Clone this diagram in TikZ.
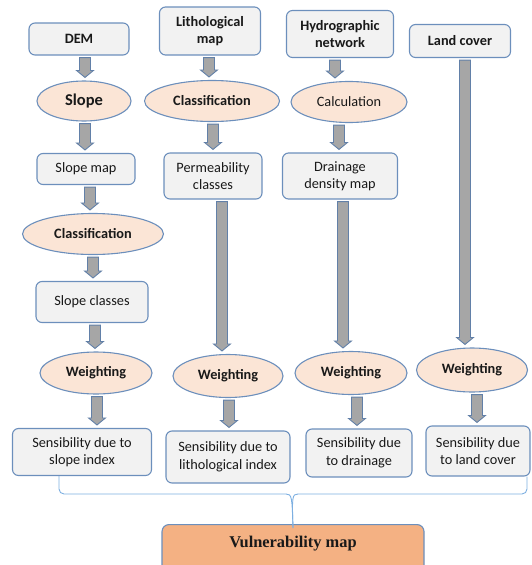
\documentclass[tikz,border=0pt]{standalone}
\usepackage{fontspec}
\setmainfont{Carlito}
\newfontfamily\tnr{Liberation Serif}
\usetikzlibrary{shapes.geometric,calc}
\definecolor{bordc}{RGB}{108,143,188}
\definecolor{boxfill}{RGB}{242,242,242}
\definecolor{ellfill}{RGB}{251,229,214}
\definecolor{arrfill}{RGB}{166,166,166}
\definecolor{arrline}{RGB}{98,128,168}
\definecolor{vulnfill}{RGB}{244,177,131}
\definecolor{bracec}{RGB}{125,175,225}
\tikzset{
  base/.style={draw=bordc,line width=1.1pt,align=center,inner sep=0pt,text=black!90,
    font=\fontsize{14.3}{17.5}\selectfont},
  boxn/.style={base,rectangle,rounded corners=6pt,fill=boxfill},
  elln/.style={base,ellipse,fill=ellfill},
  arrsty/.style={fill=arrfill,draw=arrline,line width=0.9pt,line join=miter},
  brace/.style={draw=bracec,line width=0.9pt}
}
\newcommand\barrow[3]{%
  \path let \p1=(#1.south), \p2=(#2.north) in
    [arrsty] (#3pt-5.5pt,\y1-2pt) -- (#3pt+5.5pt,\y1-2pt) -- (#3pt+5.5pt,\y2+10pt)
    -- (#3pt+8.5pt,\y2+10pt) -- (#3pt,\y2+3pt) -- (#3pt-8.5pt,\y2+10pt)
    -- (#3pt-5.5pt,\y2+10pt) -- cycle;}
\begin{document}
\begin{tikzpicture}[x=1pt,y=-1pt]
\useasboundingbox (0,0) rectangle (531,565);
% top row
\node[boxn,minimum width=100pt,minimum height=32pt,font=\bfseries\fontsize{14.3}{17.5}\selectfont] (dem) at (79,39) {DEM};
\node[boxn,minimum width=101pt,minimum height=48pt,font=\bfseries\fontsize{14.3}{17.5}\selectfont] (lith) at (210,31) {Lithological\\map};
\node[boxn,minimum width=107pt,minimum height=47pt,font=\bfseries\fontsize{14.3}{17.5}\selectfont] (hydro) at (340,34) {Hydrographic\\network};
\node[boxn,minimum width=101pt,minimum height=33pt,font=\bfseries\fontsize{14.3}{17.5}\selectfont] (land) at (460,41) {Land cover};
% ellipses row 1
\node[elln,minimum width=94pt,minimum height=40pt,font=\bfseries\fontsize{16.5}{19}\selectfont] (slope) at (84,101) {Slope};
\node[elln,minimum width=135pt,minimum height=41pt,font=\bfseries\fontsize{14.3}{17.5}\selectfont] (classL) at (212,101) {Classification};
\node[elln,minimum width=116pt,minimum height=41pt] (calc) at (349,102) {Calculation};
% second boxes
\node[boxn,minimum width=98pt,minimum height=31pt] (slopemap) at (86,169) {Slope map};
\node[boxn,minimum width=98pt,minimum height=46pt] (perm) at (213,176) {Permeability\\classes};
\node[boxn,minimum width=115pt,minimum height=46pt] (drain) at (340,176) {Drainage\\density map};
% slope chain
\node[elln,minimum width=141pt,minimum height=41pt,font=\bfseries\fontsize{14.3}{17.5}\selectfont] (classS) at (93,234) {Classification};
\node[boxn,minimum width=112pt,minimum height=41pt] (slopecls) at (92,302) {Slope classes};
% weighting
\node[elln,minimum width=112pt,minimum height=42pt,font=\bfseries\fontsize{14.3}{17.5}\selectfont] (w1) at (96,373) {Weighting};
\node[elln,minimum width=110pt,minimum height=43pt,font=\bfseries\fontsize{14.3}{17.5}\selectfont] (w2) at (228,376) {Weighting};
\node[elln,minimum width=112pt,minimum height=43pt,font=\bfseries\fontsize{14.3}{17.5}\selectfont] (w3) at (351,373) {Weighting};
\node[elln,minimum width=111pt,minimum height=44pt,font=\bfseries\fontsize{14.3}{17.5}\selectfont] (w4) at (472,370) {Weighting};
% sensibility
\node[boxn,minimum width=139pt,minimum height=47pt] (s1) at (82,452) {Sensibility due to\\slope index};
\node[boxn,minimum width=124pt,minimum height=52pt] (s2) at (228,457) {Sensibility due to\\lithological index};
\node[boxn,minimum width=106pt,minimum height=48pt] (s3) at (359,453) {Sensibility due\\to drainage};
\node[boxn,minimum width=104pt,minimum height=50pt] (s4) at (478,451) {Sensibility due\\to land cover};
% vulnerability
\node[base,rectangle,rounded corners=7pt,fill=vulnfill,anchor=north,minimum width=262pt,
  inner ysep=8pt,text height=15pt,text depth=48pt,
  font=\tnr\bfseries\fontsize{16.4}{19}\selectfont] (vuln) at (293,524) {Vulnerability map};
% arrows
\barrow{dem}{slope}{85}
\barrow{slope}{slopemap}{85}
\barrow{slopemap}{classS}{90}
\barrow{classS}{slopecls}{93}
\barrow{slopecls}{w1}{95}
\barrow{w1}{s1}{97}
\barrow{lith}{classL}{209}
\barrow{classL}{perm}{213}
\barrow{perm}{w2}{222}
\barrow{w2}{s2}{229}
\barrow{hydro}{calc}{335}
\barrow{calc}{drain}{339}
\barrow{drain}{w3}{343}
\barrow{w3}{s3}{357}
\barrow{land}{w4}{465}
\barrow{w4}{s4}{477}
% brace
\coordinate (bm) at ([yshift=-4pt]vuln.north);
\draw[brace,rounded corners=5pt] ([xshift=-23pt]s1.south) -- (59,494) -- (286,494);
\draw[brace] (286,494) .. controls (292,494) and (292,497) .. (bm);
\draw[brace] (bm) .. controls (292,497) and (292,494) .. (298,494);
\draw[brace,rounded corners=5pt] (298,494) -- (527,494) -- ([xshift=49pt]s4.south);
\end{tikzpicture}
\end{document}
